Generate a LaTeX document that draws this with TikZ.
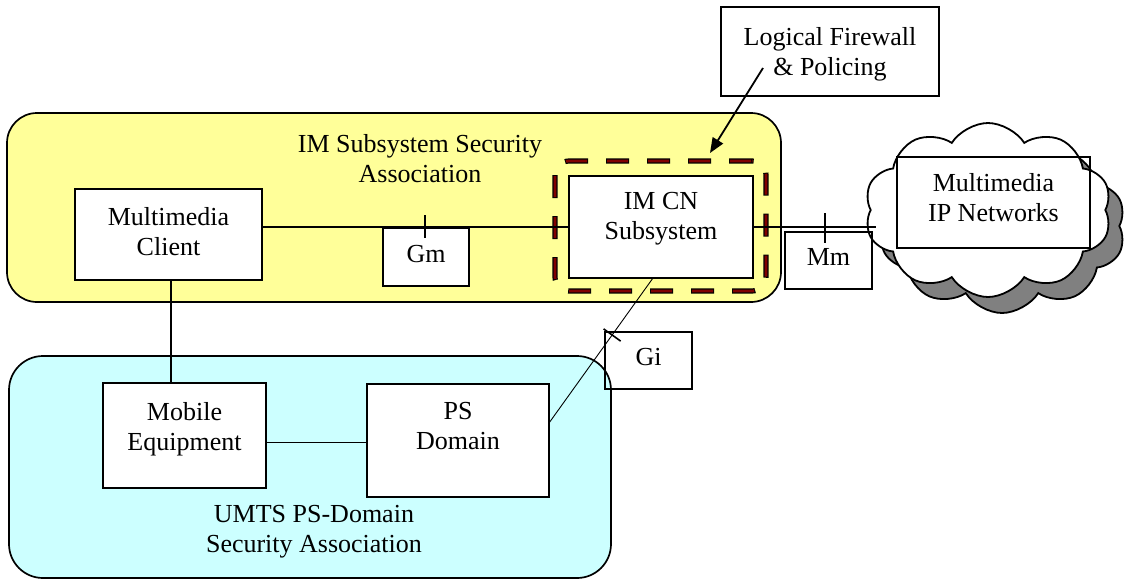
\documentclass[tikz,border=0pt]{standalone}
\usepackage{fontspec}
\setmainfont{Liberation Serif}
\usetikzlibrary{arrows.meta,shapes.symbols,calc}
\definecolor{imyellow}{HTML}{FFFF99}
\definecolor{umtscyan}{HTML}{CCFFFF}
\definecolor{fwred}{HTML}{800000}
\definecolor{shadowgray}{HTML}{808080}
\begin{document}
\begin{tikzpicture}[x=0.5pt,y=-0.5pt,
  every node/.style={font=\fontsize{13pt}{15pt}\selectfont, inner sep=0pt, outer sep=0pt},
  region/.style={draw, line width=0.85pt, anchor=north west},
  box/.style={draw, line width=0.9pt, fill=white, align=center},
  openbox/.style={draw, line width=0.9pt, align=center},
  conn/.style={line width=0.8pt},
  thinconn/.style={line width=0.45pt},
  cloudshape/.style={cloud, cloud puffs=10, cloud puff arc=115, aspect=1.42,
    minimum width=123.5pt, minimum height=87pt, line width=0.9pt, draw},
  fwbox/.style={draw=black, line width=2.6pt, rounded corners=7pt,
    dash pattern=on 11.5pt off 9pt,
    postaction={draw=fwred, line width=1.4pt, dash pattern=on 10.5pt off 10pt, dash phase=20pt}},
  pointer/.style={line width=0.9pt, -{Triangle[length=7.5pt,width=6pt]}},
]
\useasboundingbox (0,0) rectangle (1124,579);

% regions
\node[region, fill=imyellow, rounded corners=15pt, minimum width=387pt, minimum height=94.5pt] (imsa) at (7,113) {};
\node[region, fill=umtscyan, rounded corners=17pt, minimum width=301pt, minimum height=111pt] (umts) at (9,356) {};
\node[align=center, text depth=0pt] (imsatext) at (420,158.5) {IM Subsystem Security\\Association};
\node[align=center, text depth=0pt] (umtstext) at (314,528.5) {UMTS PS-Domain\\Security Association};

% firewall outline
\node[fwbox, minimum width=105.5pt, minimum height=65pt] (fw) at (660.5,226) {};

% boxes
\node[box, minimum width=43pt, minimum height=29pt, text depth=3.5pt] (gm) at (426,257) {Gm};
\node[box, minimum width=93.5pt, minimum height=45.5pt, text depth=3pt] (mc) at (168.5,234.5) {Multimedia\\Client};
\node[box, minimum width=92pt, minimum height=51pt, text depth=11pt] (imcn) at (661,227) {IM CN\\Subsystem};
\node[box, minimum width=81.5pt, minimum height=52.5pt, text depth=9.5pt] (me) at (184.5,435.5) {Mobile\\Equipment};
\node[box, minimum width=91pt, minimum height=56.5pt, text depth=14.5pt] (ps) at (458,440.5) {PS\\Domain};
\node[box, minimum width=109pt, minimum height=44.5pt, text depth=0pt] (lf) at (830,51.5) {Logical Firewall\\\& Policing};
\node[openbox, minimum width=43.5pt, minimum height=28.5pt, text depth=4pt] (gi) at (648.5,360.5) {Gi};

% cloud
\node[cloudshape, fill=shadowgray] (cloudshadow) at (1002,226) {};
\node[cloudshape, fill=white] (cloud) at (988,210) {};
\node[openbox, minimum width=96.5pt, minimum height=45.5pt, text depth=5pt] (mip) at (993.5,202.5) {Multimedia\\IP Networks};
\node[openbox, minimum width=43.5pt, minimum height=28.5pt, text depth=4pt] (mm) at (828.5,260.5) {Mm};

% connectors
\draw[conn] (imcn.west -| mc.east) -- (imcn.west);
\draw[conn] ([xshift=-0.5pt,yshift=6.5pt]gm.north) -- ++(0,23);
\draw[conn] (imcn.east) -- ([xshift=2.5pt]imcn.east -| cloud.west);
\draw[conn] ([xshift=-1.75pt,yshift=9.5pt]mm.north) -- ++(0,30);
\draw[conn] ([xshift=1.25pt]mc.south) -- ([xshift=1.25pt]mc.south |- me.north);
\draw[thinconn] ([yshift=-3.25pt]me.east) -- ([yshift=-3.25pt]me.east -| ps.west);
\coordinate (giA) at ([yshift=8.75pt]ps.east);
\coordinate (giB) at ([xshift=-4pt]imcn.south);
\draw[thinconn] (giA) -- (giB);
\draw[conn] ($(giA)!0.607!(giB)!5.25pt!90:(giB)$) -- ($(giA)!0.607!(giB)!5.25pt!-90:(giB)$);

% pointer
\coordinate (lfstart) at (763,68);
\coordinate (fwtip) at (710,153);
\draw[pointer] (lfstart) -- (fwtip);
\end{tikzpicture}
\end{document}
